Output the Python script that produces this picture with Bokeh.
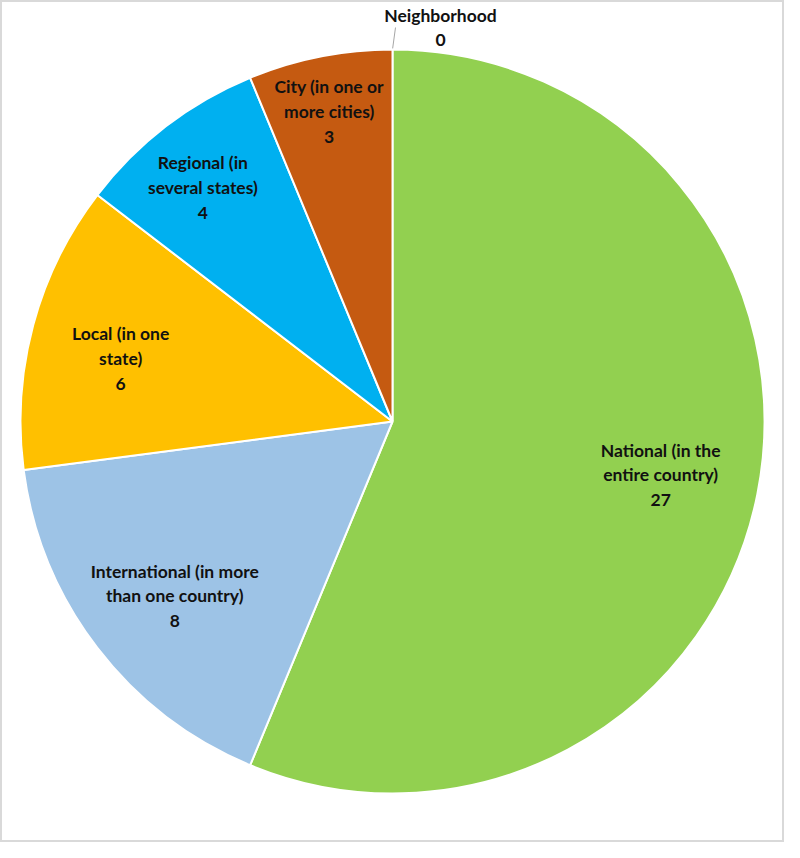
import math
from bokeh.plotting import figure
from bokeh.models import Range1d, ColumnDataSource
from bokeh.core.properties import value
from bokeh.embed import file_html
from bokeh.resources import INLINE

# ---- data ----
categories = [
    "National (in the\nentire country)",
    "International (in more\nthan one country)",
    "Local (in one\nstate)",
    "Regional (in\nseveral states)",
    "City (in one or\nmore cities)",
    "Neighborhood",
]
values = [27, 8, 6, 4, 3, 0]

# ---- style ----
colors = ["#92D050", "#9DC3E6", "#FFC000", "#00B0F0", "#C55A11", "#7F7F7F"]
label_r = [0.735, 0.75, 0.75, 0.81, 0.85, 1.0]
label_da = [0.0, 1.2, 2.0, 1.5, 0.3, 0.0]  # degrees of angular nudge

W, H = 784, 842
cx, cy, R = 392, 421, 372

p = figure(width=W, height=H, output_backend="svg", toolbar_location=None,
           x_range=Range1d(0, W), y_range=Range1d(0, H), min_border=0)
p.axis.visible = False
p.grid.visible = False
p.outline_line_color = "#D9D9D9"
p.outline_line_width = 3
p.background_fill_color = "white"
p.border_fill_color = "white"

total = sum(values)
cum = 0
ws = dict(start=[], end=[], color=[])
lx, ly, lt = [], [], []
for i, (c, v) in enumerate(zip(categories, values)):
    a0 = math.pi / 2 - 2 * math.pi * cum / total
    cum += v
    a1 = math.pi / 2 - 2 * math.pi * cum / total
    mid = (a0 + a1) / 2 + math.radians(label_da[i])
    txt = f"{c}\n{v}"
    if v > 0:
        ws["start"].append(a0)
        ws["end"].append(a1)
        ws["color"].append(colors[i])
        lx.append(cx + R * label_r[i] * math.cos(mid))
        ly.append(cy + R * label_r[i] * math.sin(mid))
        lt.append(txt)
    else:
        ex, ey = cx + R * math.cos(mid), cy + R * math.sin(mid)
        p.segment(x0=[ex], y0=[ey], x1=[ex + 3], y1=[ey + 22],
                  line_color="#A6A6A6", line_width=1)
        lx.append(ex + 48)
        ly.append(ey + 22)
        lt.append(txt)

src = ColumnDataSource(ws)
p.wedge(x=cx, y=cy, radius=R, start_angle="start", end_angle="end",
        direction="clock", fill_color="color", line_color="white",
        line_width=2, source=src)

p.text(x=lx, y=ly, text=lt, text_align="center", text_baseline="middle",
       text_font=value("Lato"), text_font_style="bold", text_font_size="17.5px",
       text_color="#111111", text_line_height=1.18)

open("out.html", "w").write(file_html(p, INLINE))
